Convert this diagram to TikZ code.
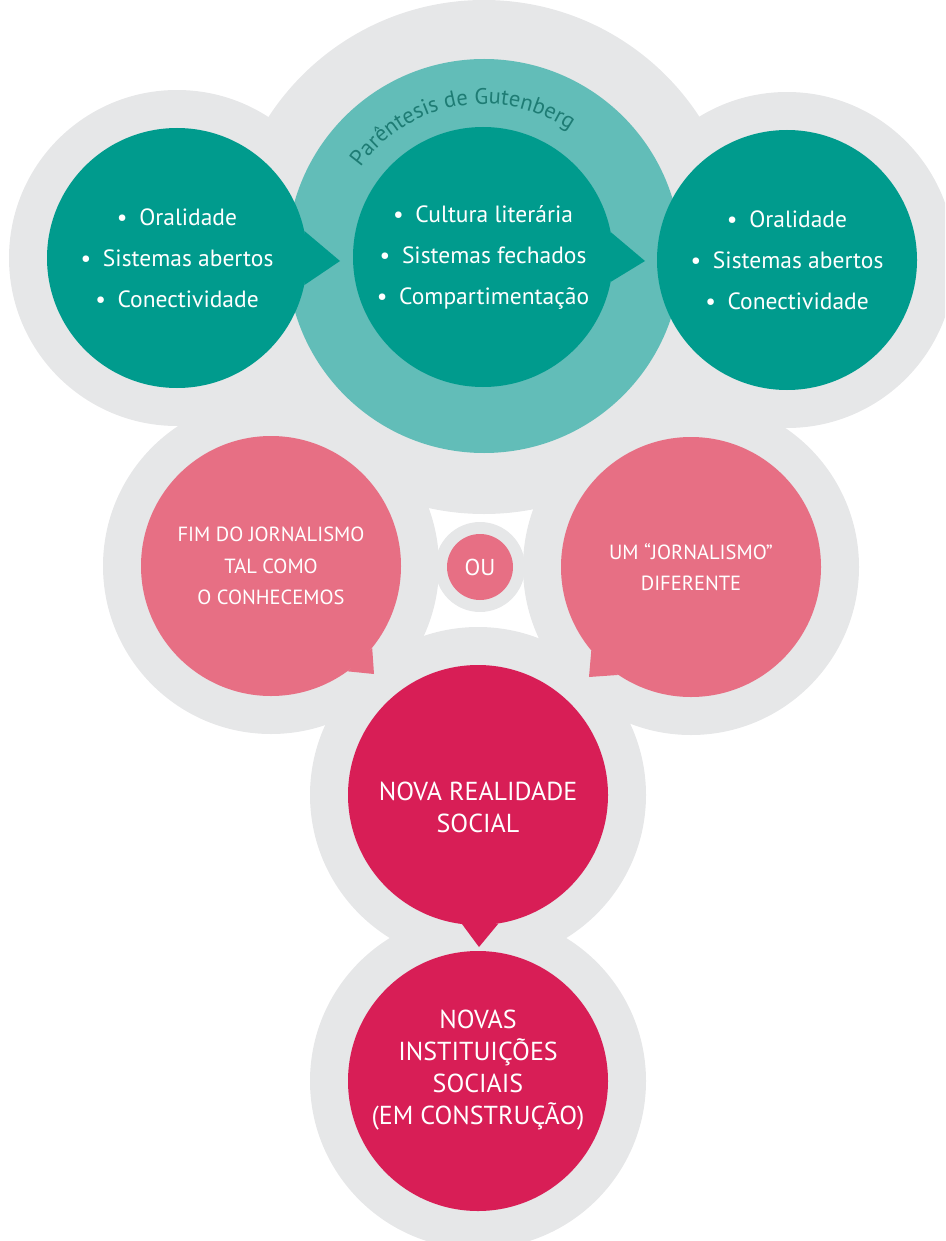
\documentclass[tikz,border=0pt]{standalone}
\usepackage{fontspec}
\setmainfont{PT Sans}
\usetikzlibrary{decorations.text}

\definecolor{ringgray}{HTML}{E6E7E8}
\definecolor{darkteal}{HTML}{009B8D}
\definecolor{lightteal}{HTML}{62BDB8}
\definecolor{rose}{HTML}{E76F84}
\definecolor{crimson}{HTML}{D81E56}
\definecolor{arcteal}{HTML}{1E7C74}

\tikzset{
  ring/.style={circle, fill=ringgray, minimum size=336pt, inner sep=0pt},
  bubble/.style={circle, minimum size=260pt, inner sep=0pt, text=white, align=center},
  tealbub/.style={bubble, fill=darkteal, font=\fontsize{23.5}{41}\selectfont},
  rosebub/.style={bubble, fill=rose, font=\fontsize{20.5}{31.5}\selectfont},
  redbub/.style={bubble, fill=crimson},
  redtext/.style={text=white, align=center, font=\fontsize{26}{32}\selectfont},
}

\begin{document}
\begin{tikzpicture}[x=1pt,y=-1pt]
\useasboundingbox (0,0) rectangle (945,1241);
\clip (0,0) rectangle (945,1241);

% gray backgrounds
\node[ring, minimum size=514pt] (gutring) at (484,257) {};
\node[ring] (oralinring) at (177,258) {};
\node[ring] (oraloutring) at (787,260) {};
\node[ring] (fimring) at (271,566) {};
\node[ring] (outroring) at (691,567) {};
\node[ring, minimum size=90pt] (ouring) at (480,567) {};
\node[ring] (realring) at (478,795) {};
\node[ring] (instring) at (478,1081) {};

% Gutenberg parenthesis
\node[circle, fill=lightteal, minimum size=394pt, inner sep=0pt] (gutenberg) at (484,256) {};
\path[decorate, decoration={text along path, text align=center,
    text={|\color{arcteal}\fontsize{22.5}{22.5}\selectfont|Parêntesis de Gutenberg}}]
  (gutenberg.center) ++(188:152) arc[start angle=188, end angle=332, radius=152];

% bubbles
\node[tealbub] (oralin) at (177,258) {•\enspace Oralidade\\ •\enspace Sistemas abertos\\ •\enspace Conectividade};
\node[tealbub] (letrado) at (483,257) {•\enspace Cultura literária\\ •\enspace Sistemas fechados\\ •\enspace Compartimentação};
\node[tealbub] (oralout) at (787,260) {•\enspace Oralidade\\ •\enspace Sistemas abertos\\ •\enspace Conectividade};

\node[rosebub] (fim) at (271,566) {FIM DO JORNALISMO\\ TAL COMO\\ O CONHECEMOS};
\node[rosebub] (outro) at (691,567) {UM “JORNALISMO”\\ DIFERENTE};
\node[circle, fill=rose, minimum size=66pt, inner sep=0pt, text=white, font=\fontsize{23}{23}\selectfont] (ou) at (480,567) {OU};

\node[redbub] (realidade) at (478,795) {};
\node[redbub] (instituicoes) at (478,1081) {};
\node[redtext] (realtxt) at (478,807) {NOVA REALIDADE\\ SOCIAL};
\node[redtext] (insttxt) at (478,1070) {NOVAS\\ INSTITUIÇÕES\\ SOCIAIS\\ (EM CONSTRUÇÃO)};

% pointers
\coordinate (tipa) at (340,261);
\coordinate (tipb) at (645,261);
\coordinate (tipc) at (374,674);
\coordinate (tipd) at (589,677);
\coordinate (tipe) at (479,947);

\fill[darkteal] (oralin.12) -- (tipa) -- (oralin.-12) -- cycle;
\fill[darkteal] (letrado.11) -- (tipb) -- (letrado.-11) -- cycle;
\fill[rose] (fim.-39) -- (tipc) -- (fim.-54) -- cycle;
\fill[rose] (outro.-140) -- (tipd) -- (outro.-124) -- cycle;
\fill[crimson] (realidade.-97) -- (tipe) -- (realidade.-81) -- cycle;
\end{tikzpicture}
\end{document}
